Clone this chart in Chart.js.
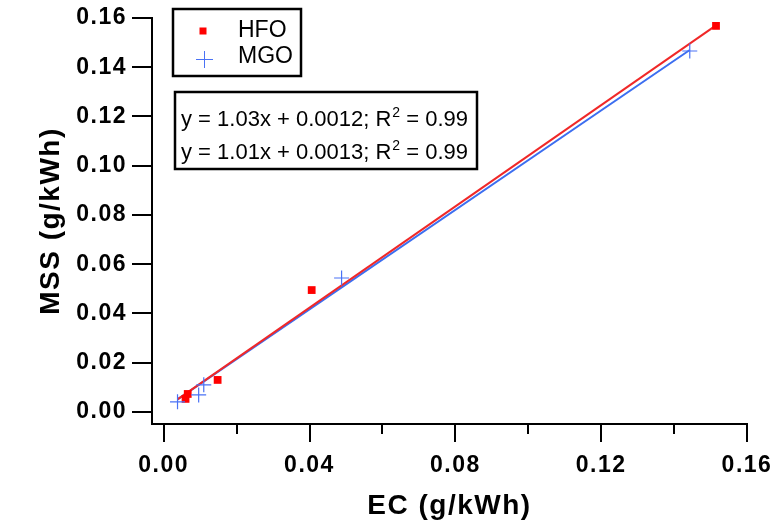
<!DOCTYPE html>
<html>
<head>
<meta charset="utf-8">
<script src="https://cdn.jsdelivr.net/npm/chart.js@4.4.1/dist/chart.umd.min.js"></script>
<style>
    html, body { margin: 0; padding: 0; background: #fff; }
    #wrap { width: 771px; height: 527px; }
</style>
</head>
<body>
<div id="wrap"><canvas id="chart"></canvas></div>
<script>
// Values (g/kWh).
const seriesNames = ["HFO", "MGO"];
const hfoX = [0.0060, 0.0066, 0.0148, 0.0406, 0.1515];
const hfoY = [0.0053, 0.0073, 0.0130, 0.0495, 0.1568];
const mgoX = [0.0038, 0.0096, 0.0110, 0.0488, 0.1443];
const mgoY = [0.0041, 0.0069, 0.0110, 0.0544, 0.1466];

// Fit line end points, as drawn.
const hfoFitX = [0.0038, 0.1515];
const hfoFitY = [0.0051, 0.1570];
const mgoFitX = [0.0038, 0.1443];
const mgoFitY = [0.0051, 0.1470];

const xTicks = [0, 0.04, 0.08, 0.12, 0.16];
const xMinorTicks = [0.02, 0.06, 0.10, 0.14];
const yTicks = [0, 0.02, 0.04, 0.06, 0.08, 0.10, 0.12, 0.14, 0.16];

const eqText = ["y = 1.03x + 0.0012; R", "y = 1.01x + 0.0013; R"];
const eqR2 = [" = 0.99", " = 0.99"];

const RED = "#ff0000";
const BLUE = "#4a72f5";
const FONT = '"Liberation Sans", Arial, sans-serif';

const points = (xs, ys) => xs.map((x, i) => ({x: x, y: ys[i]}));

/**
 * The axis text in the picture is set a little wide.
 */
const wideText = {
    id: "wideText",
    beforeDraw(chart) {
        chart.ctx.letterSpacing = "1.5px";
    }
};

/**
 * Outside tick marks, major and minor.
 */
const tickMarks = {
    id: "tickMarks",
    afterDraw(chart) {
        const ctx = chart.ctx;
        const area = chart.chartArea;
        const x = chart.scales.x;
        const y = chart.scales.y;
        ctx.save();
        ctx.strokeStyle = "#000";
        ctx.lineWidth = 2;
        ctx.beginPath();
        yTicks.forEach(function (v) {
            const p = Math.round(y.getPixelForValue(v));
            ctx.moveTo(area.left - 20, p);
            ctx.lineTo(area.left, p);
        });
        xTicks.forEach(function (v) {
            const p = Math.round(x.getPixelForValue(v));
            ctx.moveTo(p, area.bottom);
            ctx.lineTo(p, area.bottom + 18);
        });
        xMinorTicks.forEach(function (v) {
            const p = Math.round(x.getPixelForValue(v));
            ctx.moveTo(p, area.bottom);
            ctx.lineTo(p, area.bottom + 10);
        });
        ctx.stroke();
        ctx.restore();
    }
};

/**
 * Boxed legend and boxed fit equations, top left.
 */
const boxes = {
    id: "boxes",
    afterDraw(chart) {
        const ctx = chart.ctx;
        ctx.save();
        ctx.letterSpacing = "0px";
        ctx.fillStyle = "#fff";
        ctx.fillRect(173, 9, 128, 67);
        ctx.fillRect(175, 92, 302, 77);
        ctx.strokeStyle = "#000";
        ctx.lineWidth = 2.5;
        ctx.strokeRect(173, 9, 128, 67);
        ctx.strokeRect(175, 92, 302, 77);

        // legend markers
        ctx.fillStyle = RED;
        ctx.fillRect(199.5, 27.5, 7, 7);
        ctx.strokeStyle = BLUE;
        ctx.lineWidth = 1;
        ctx.beginPath();
        ctx.moveTo(196, 59.5);
        ctx.lineTo(213, 59.5);
        ctx.moveTo(204.5, 51);
        ctx.lineTo(204.5, 68);
        ctx.stroke();

        ctx.fillStyle = "#000";
        ctx.textBaseline = "alphabetic";
        ctx.font = "23px " + FONT;
        ctx.fillText(seriesNames[0], 238, 37);
        ctx.fillText(seriesNames[1], 238, 63);

        // equations with superscript 2
        const base = [126, 159];
        eqText.forEach(function (t, i) {
            ctx.font = "22px " + FONT;
            let cx = 181;
            ctx.fillText(t, cx, base[i]);
            cx += ctx.measureText(t).width + 1;
            ctx.font = "14px " + FONT;
            ctx.fillText("2", cx, base[i] - 9);
            cx += ctx.measureText("2").width;
            ctx.font = "22px " + FONT;
            ctx.fillText(eqR2[i], cx, base[i]);
        });
        ctx.restore();
    }
};

new Chart(document.getElementById("chart"), {
    type: "scatter",
    data: {
        datasets: [
            {
                label: seriesNames[0],
                data: points(hfoX, hfoY),
                pointStyle: "rect",
                pointRadius: 5.5,
                backgroundColor: RED,
                borderColor: RED,
                borderWidth: 0,
                order: 1
            }, {
                label: seriesNames[1],
                data: points(mgoX, mgoY),
                pointStyle: "cross",
                pointRadius: 7.5,
                borderColor: BLUE,
                borderWidth: 1.2,
                order: 0
            }, {
                label: "HFO fit",
                data: points(hfoFitX, hfoFitY),
                showLine: true,
                pointRadius: 0,
                borderColor: "#f02828",
                borderWidth: 2,
                order: 2
            }, {
                label: "MGO fit",
                data: points(mgoFitX, mgoFitY),
                showLine: true,
                pointRadius: 0,
                borderColor: "#3c6ef0",
                borderWidth: 2,
                order: 3
            }
        ]
    },
    options: {
        responsive: true,
        maintainAspectRatio: false,
        animation: false,
        layout: {padding: {left: 0, right: 24, top: 18, bottom: 0}},
        plugins: {
            legend: {display: false},
            tooltip: {enabled: false}
        },
        scales: {
            x: {
                type: "linear",
                min: -0.0032,
                max: 0.16,
                afterBuildTicks: (s) => { s.ticks = xTicks.map((v) => ({value: v})); },
                afterFit: (s) => {
                    s.height = 103;
                    s.paddingLeft = 0;
                    s.paddingRight = 0;
                },
                grid: {display: false, drawTicks: true, tickLength: 18},
                border: {display: true, color: "#000", width: 2},
                ticks: {
                    padding: 10,
                    color: "#000",
                    maxRotation: 0,
                    font: {family: FONT, size: 23, weight: "bold"},
                    callback: (v) => Number(v).toFixed(2)
                },
                title: {
                    display: true,
                    text: "EC (g/kWh)",
                    color: "#000",
                    padding: {top: 0, bottom: 4},
                    font: {family: FONT, size: 28, weight: "bold"}
                }
            },
            y: {
                type: "linear",
                min: -0.0049,
                max: 0.16,
                afterBuildTicks: (s) => { s.ticks = yTicks.map((v) => ({value: v})); },
                afterFit: (s) => {
                    s.width = 152;
                    s.paddingTop = 0;
                    s.paddingBottom = 0;
                },
                grid: {display: false, drawTicks: true, tickLength: 20},
                border: {display: true, color: "#000", width: 2},
                ticks: {
                    padding: 5,
                    color: "#000",
                    font: {family: FONT, size: 23, weight: "bold"},
                    callback: (v) => Number(v).toFixed(2)
                },
                title: {
                    display: true,
                    text: "MSS (g/kWh)",
                    color: "#000",
                    padding: {top: 34, bottom: 0},
                    font: {family: FONT, size: 28, weight: "bold"}
                }
            }
        }
    },
    plugins: [wideText, tickMarks, boxes]
});
</script>
</body>
</html>
